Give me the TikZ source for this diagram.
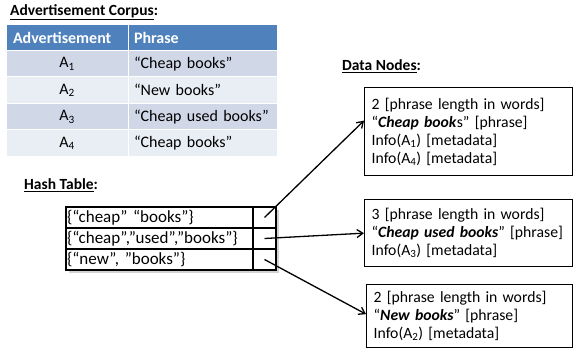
\documentclass[tikz,border=0pt]{standalone}
\usepackage{fontspec}
\setmainfont{Carlito}
\usetikzlibrary{arrows.meta,positioning}
\definecolor{hdblue}{RGB}{79,129,189}
\definecolor{rowdark}{RGB}{208,216,232}
\definecolor{rowlight}{RGB}{233,237,244}
\newcommand{\bodysize}{\fontsize{16}{17.5}\selectfont}
\tikzset{ptr/.style={-{Straight Barb[length=6pt,width=8pt]}, line width=1.3pt},
  ttl/.style={font=\bfseries\fontsize{15.5}{17}\selectfont, inner sep=1pt, anchor=west},
  cell/.style={draw=white, line width=1pt, minimum height=26.5pt, inner sep=0pt, outer sep=0pt, anchor=north west},
  hkey/.style={draw, fill=white, line width=1.2pt, minimum height=21pt, inner ysep=0pt, outer sep=0pt, anchor=north west,
    font=\fontsize{17}{18}\selectfont},
  dnode/.style={draw, line width=1.3pt, anchor=north west, align=left, inner xsep=7pt, inner ysep=0pt,
    font=\fontsize{15.7}{18}\selectfont}}

\begin{document}
\begin{tikzpicture}[x=1pt, y=-1pt, font=\bodysize]
  \useasboundingbox (0,0) rectangle (573,350);
  % titles
  \node[ttl] (corpus) at (9,12) {\underline{Advertisement Corpus}:};
  \node[ttl] (hashttl) at (23,185) {\underline{Hash Table}:};
  \node[ttl] (datattl) at (341,66) {\underline{Data Nodes}:};
  % corpus table
  \node[cell, fill=hdblue, minimum height=25.5pt, text width=108pt, inner xsep=7pt, align=left, text=white, font=\bfseries\bodysize] (hadv) at (6,25) {Advertisement};
  \node[cell, fill=hdblue, minimum height=25.5pt, text width=137pt, inner xsep=6pt, align=left, text=white, font=\bfseries\bodysize] (hphr) at (128,25) {Phrase};
  \foreach \i/\ph/\col in {1/{“Cheap books”}/rowdark, 2/{“New books”}/rowlight, 3/{“Cheap used books”}/rowdark, 4/{“Cheap books”}/rowlight} {
    \node[cell, fill=\col, minimum width=122pt] (adv\i) at (6,{50.5+26.5*(\i-1)}) {A\textsubscript{\i}};
    \node[cell, fill=\col, text width=137pt, inner xsep=6pt, align=left] (phr\i) at (128,{50.5+26.5*(\i-1)}) {\ph};
  }
  % hash table
  \fill[gray!35] (68.5,209.5) rectangle (278.5,272.5);
  \node[hkey, minimum width=187pt, text width=185pt, inner xsep=1pt, align=left] (hk1) at (66,207) {\{“cheap” “books”\}};
  \node[hkey, minimum width=187pt, text width=185pt, inner xsep=1pt, align=left] (hk2) at (66,228) {\{“cheap”,”used”,”books”\}};
  \node[hkey, minimum width=187pt, text width=185pt, inner xsep=1pt, align=left] (hk3) at (66,249) {\{“new”, ”books”\}};
  \node[hkey, minimum width=23pt] (hp1) at (253,207) {};
  \node[hkey, minimum width=23pt] (hp2) at (253,228) {};
  \node[hkey, minimum width=23pt] (hp3) at (253,249) {};
  % data nodes
  \node[dnode, text width=194pt, minimum height=88pt] (data1) at (364,87) {2 [phrase length in words]\\“\textbf{\textit{Cheap book}}s” [phrase]\\Info(A\textsubscript{1}) [metadata]\\Info(A\textsubscript{4}) [metadata]};
  \node[dnode, text width=194pt, minimum height=67pt] (data2) at (364,199) {3 [phrase length in words]\\“\textbf{\textit{Cheap used books}}” [phrase]\\Info(A\textsubscript{3}) [metadata]};
  \node[dnode, text width=192pt, minimum height=63pt] (data3) at (366,284) {2 [phrase length in words]\\“\textbf{\textit{New books}}” [phrase]\\Info(A\textsubscript{2}) [metadata]};
  % pointers
  \draw[ptr] (hp1.center) -- ([yshift=11pt]data1.west);
  \draw[ptr] (hp2.center) -- (data2.west);
  \draw[ptr] (hp3.center) -- ([yshift=2pt]data3.west);
\end{tikzpicture}
\end{document}
